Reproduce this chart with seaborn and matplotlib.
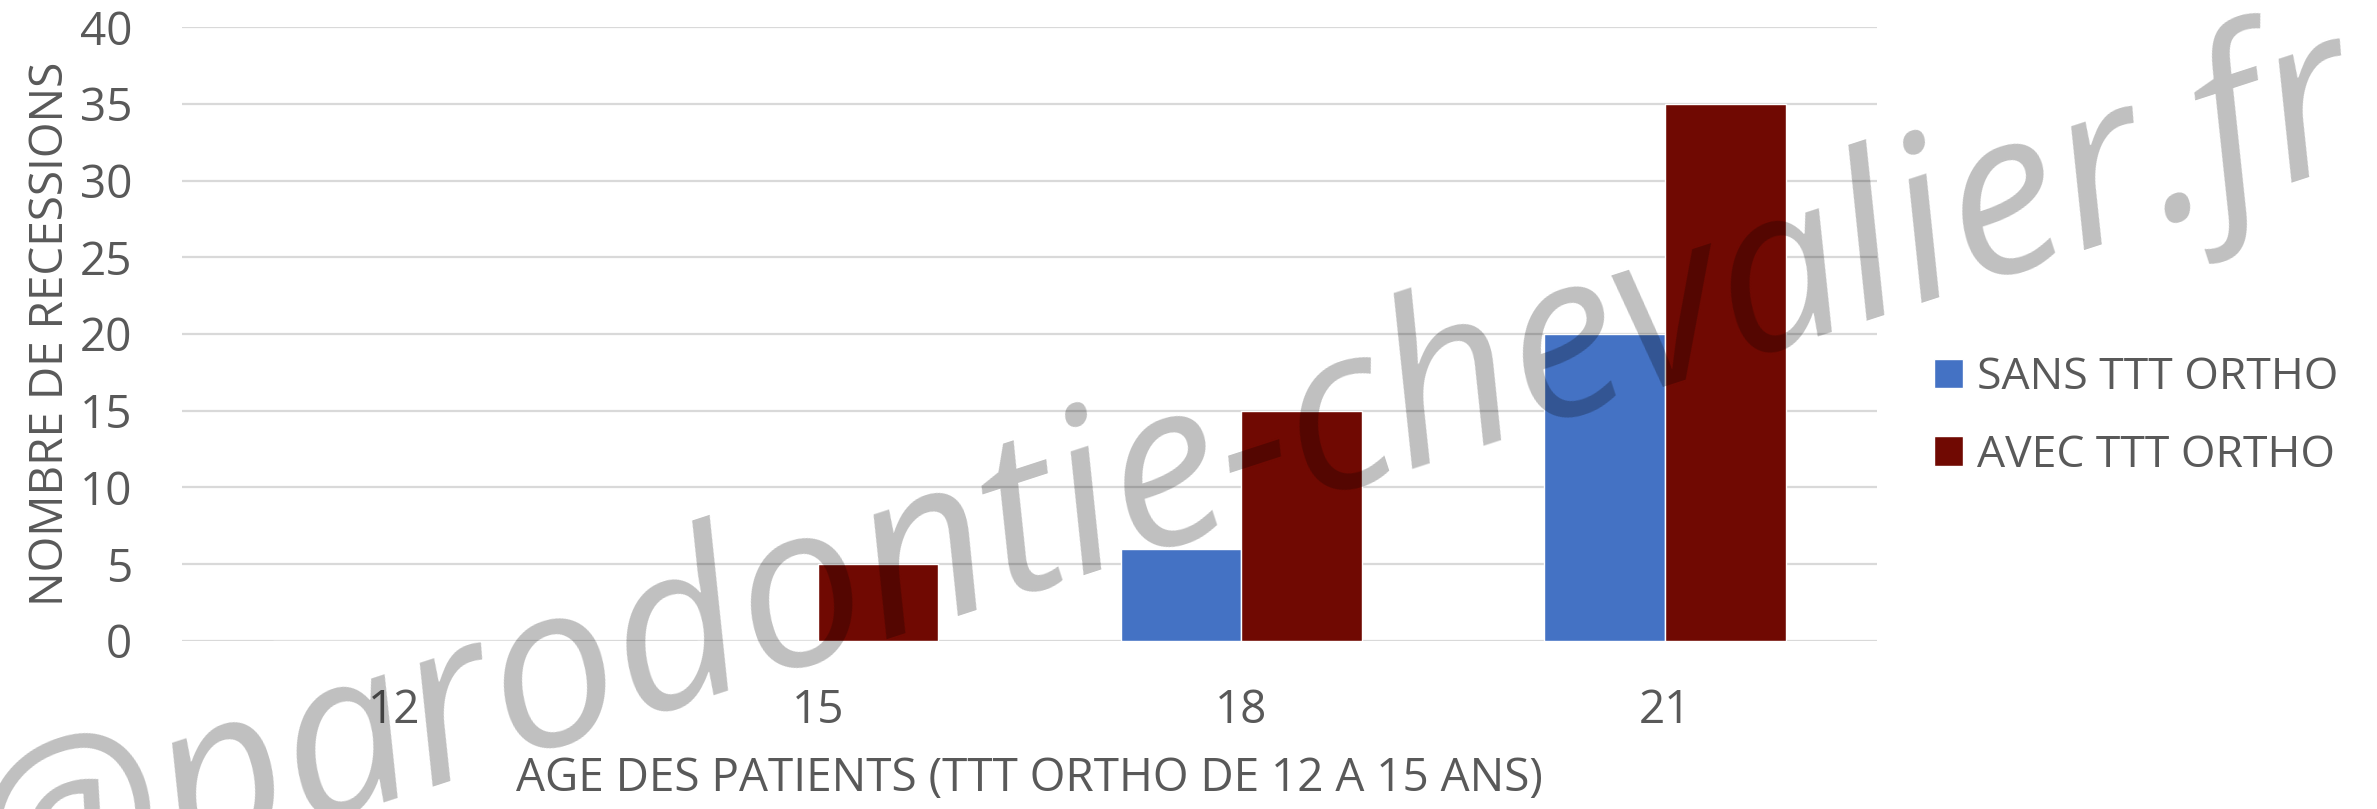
import pandas as pd
import matplotlib
matplotlib.use("Agg")
import matplotlib.pyplot as plt
import seaborn as sns

# data
ages = ["12", "15", "18", "21"]
sans_ttt = [0, 0, 6, 20]
avec_ttt = [0, 5, 15, 35]
series_names = ["SANS TTT ORTHO", "AVEC TTT ORTHO"]
colors = ["#4472C4", "#700902"]
y_ticks = [0, 5, 10, 15, 20, 25, 30, 35, 40]

df = pd.DataFrame({
    "age": ages * 2,
    "valeur": sans_ttt + avec_ttt,
    "groupe": [series_names[0]] * len(ages) + [series_names[1]] * len(ages),
})

sns.set_theme(style="white")
plt.rcParams["font.family"] = ["Open Sans", "DejaVu Sans"]
text_color = "#595959"

fig = plt.figure(figsize=(23.77, 8.09), dpi=100)
ax = fig.add_axes([0.0766, 0.2077, 0.7131, 0.7589])

sns.barplot(data=df, x="age", y="valeur", hue="groupe", palette=colors,
            width=0.57, saturation=1, ax=ax, zorder=3)

ax.set_ylim(0, 40)
ax.set_xlim(-0.5, 3.5)
ax.set_yticks(y_ticks)
ax.yaxis.grid(True, color="#d9d9d9", linewidth=1.6, zorder=0)
ax.set_axisbelow(True)
for s in ax.spines.values():
    s.set_visible(False)
ax.tick_params(axis="both", length=0, labelsize=33, colors=text_color)
ax.tick_params(axis="y", pad=36)
ax.tick_params(axis="x", pad=34)

ax.set_xlabel("AGE DES PATIENTS (TTT ORTHO DE 12 A 15 ANS)", fontsize=33,
              color=text_color, labelpad=16)
ax.set_ylabel("NOMBRE DE RECESSIONS", fontsize=33, color=text_color, labelpad=4)

ax.legend(loc="center left", bbox_to_anchor=(0.797, 0.485),
          bbox_transform=fig.transFigure, frameon=False, fontsize=32,
          labelcolor=text_color, handlelength=0.65, handleheight=0.65,
          handletextpad=0.3, labelspacing=0.75)

# watermark
fig.text(0.49, 0.405, "@parodontie-chevalier.fr", fontsize=164, style="italic",
         color="black", alpha=0.25, rotation=18, ha="center", va="center",
         zorder=10)

fig.savefig("out.png", dpi=100)
